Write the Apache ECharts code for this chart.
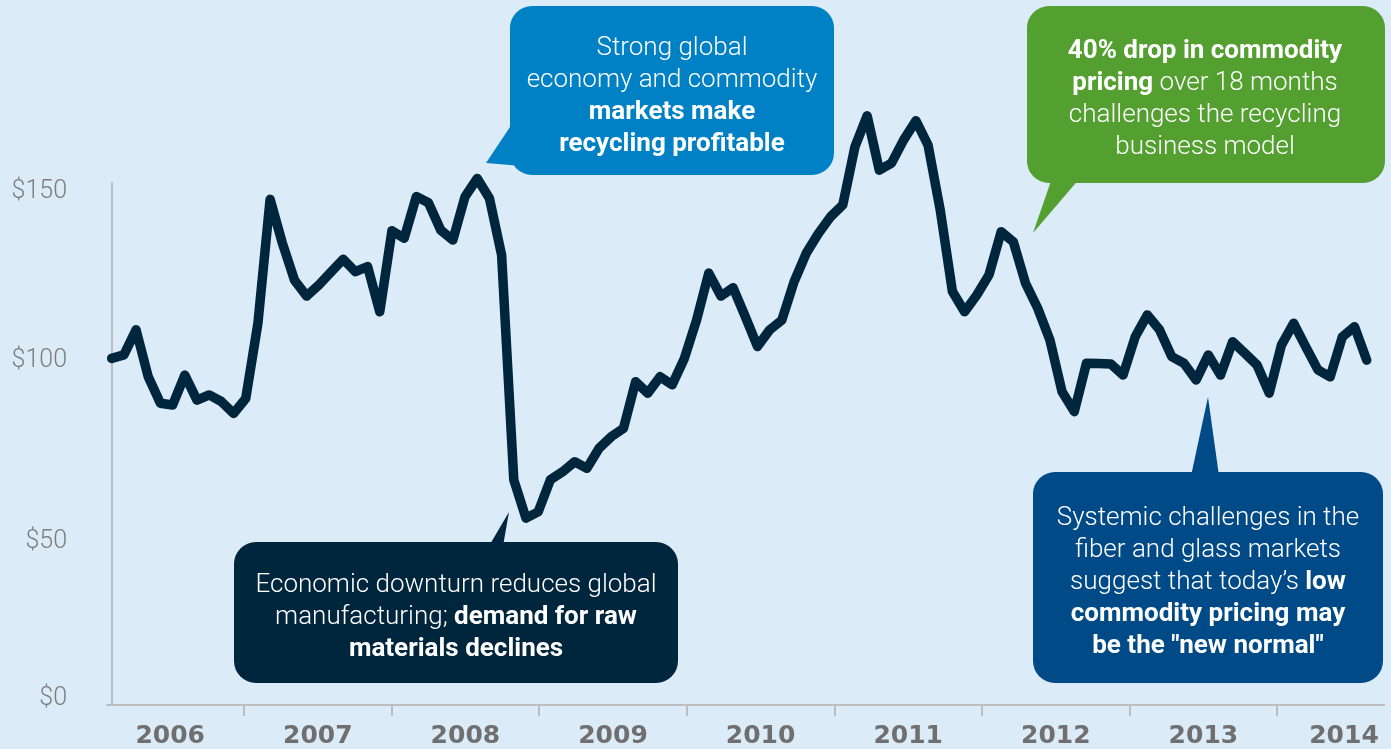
<!DOCTYPE html>
<html><head><meta charset="utf-8">
<script src="https://cdn.jsdelivr.net/npm/echarts@6/dist/echarts.min.js"></script>
<style>html,body{margin:0;padding:0;background:#dbebf7;}#c{width:1391px;height:749px;}</style>
</head><body><div id="c"></div>
<script>
// Monthly observations, Feb 2006 – Sep 2014
const months = [
 '2006-02','2006-03','2006-04','2006-05','2006-06','2006-07','2006-08','2006-09','2006-10','2006-11','2006-12',
 '2007-01','2007-02','2007-03','2007-04','2007-05','2007-06','2007-07','2007-08','2007-09','2007-10','2007-11','2007-12',
 '2008-01','2008-02','2008-03','2008-04','2008-05','2008-06','2008-07','2008-08','2008-09','2008-10','2008-11','2008-12',
 '2009-01','2009-02','2009-03','2009-04','2009-05','2009-06','2009-07','2009-08','2009-09','2009-10','2009-11','2009-12',
 '2010-01','2010-02','2010-03','2010-04','2010-05','2010-06','2010-07','2010-08','2010-09','2010-10','2010-11','2010-12',
 '2011-01','2011-02','2011-03','2011-04','2011-05','2011-06','2011-07','2011-08','2011-09','2011-10','2011-11','2011-12',
 '2012-01','2012-02','2012-03','2012-04','2012-05','2012-06','2012-07','2012-08','2012-09','2012-10','2012-11','2012-12',
 '2013-01','2013-02','2013-03','2013-04','2013-05','2013-06','2013-07','2013-08','2013-09','2013-10','2013-11','2013-12',
 '2014-01','2014-02','2014-03','2014-04','2014-05','2014-06','2014-07','2014-08','2014-09'
];
const prices = [
 99.6,100.6,107.8,94.3,86.7,86.2,94.8,87.6,89.1,87.2,83.8,
 88.1,109.7,145.3,132.8,122.1,117.5,120.7,124.4,128.1,124.5,126.0,113.0,
 136.3,134.1,146.1,144.3,136.5,133.6,146.1,151.3,145.6,129.3,64.7,53.7,
 55.5,64.7,67.0,69.9,68.0,73.8,77.1,79.5,92.9,89.6,94.3,92.0,
 99.6,110.6,124.1,117.5,119.9,111.6,103.0,107.8,110.6,121.6,129.8,135.5,
 140.3,143.7,160.4,169.3,153.7,155.7,162.4,167.9,160.9,142.2,118.8,113.0,
 117.8,123.6,136.0,133.1,121.2,114.0,104.9,90.0,84.3,98.2,98.1,98.0,
 94.8,105.8,112.1,107.8,100.1,98.2,93.4,100.6,94.8,104.4,101.1,97.7,
 89.6,103.4,109.7,102.9,96.3,94.3,105.8,108.7,99.1
];
const years = ['2006','2007','2008','2009','2010','2011','2012','2013','2014'];
const yTicks = [0, 50, 100, 150];

const seriesData = prices.map((v, i) => [i, v]);
// calendar months for the year axis (starts at January 2006)
const calendarMonths = ['2006-01'].concat(months);

const LIGHT = 'Roboto';
const FS = 26;
const richStyles = {
  l: {fontFamily: LIGHT, fontWeight: 300, fontSize: FS, lineHeight: 32, fill: '#ffffff', color: '#ffffff'},
  b: {fontFamily: LIGHT, fontWeight: 700, fontSize: FS, lineHeight: 32, fill: '#ffffff', color: '#ffffff'}
};
function callout(box, pointer, color, cx, cy, text) {
  return {
    type: 'group', z: 100, children: [
      {type: 'polygon', shape: {points: pointer}, style: {fill: color}, z: 100},
      {type: 'rect', shape: {x: box[0], y: box[1], width: box[2], height: box[3], r: 22}, style: {fill: color}, z: 100},
      {type: 'text', z: 101, style: {
        x: cx, y: cy, text: text, rich: richStyles, fill: '#fff',
        align: 'center', verticalAlign: 'middle', textAlign: 'center', textVerticalAlign: 'middle',
        fontFamily: LIGHT, fontSize: FS, lineHeight: 32
      }}
    ]
  };
}

const yearLabelStyle = {color: '#6f6f6f', fontFamily: 'DejaVu Sans', fontWeight: 'bold', fontSize: 25};
const lastYear = years[years.length - 1];

const chart = echarts.init(document.getElementById('c'), null, {renderer: 'canvas'});
chart.setOption({
  backgroundColor: '#dbebf7',
  animation: false,
  grid: [
    {left: 107, right: 7, top: 183, bottom: 44},
    {left: 96.4, width: 1279.2, top: 183, bottom: 44},
    {left: 107, right: 7, top: 192, bottom: 50}
  ],
  xAxis: [
    {type: 'value', gridIndex: 0, min: -0.386, max: 104.42,
     axisLine: {show: true, lineStyle: {color: '#bdbdbd', width: 2}},
     axisTick: {show: false}, axisLabel: {show: false}, splitLine: {show: false}},
    {type: 'category', gridIndex: 1, data: calendarMonths, boundaryGap: false,
     axisLine: {show: false},
     axisTick: {show: true, length: 11, interval: (i) => i > 0 && i % 12 === 0,
       lineStyle: {color: '#bdbdbd', width: 2}},
     axisLabel: Object.assign({interval: (i) => i % 12 === 6, margin: 19,
       formatter: (v) => {
         const y = v.slice(0, 4);
         return y === lastYear ? '{e|' + y + '}' : y;
       },
       rich: {e: Object.assign({padding: [0, 14, 0, 0]}, yearLabelStyle)}}, yearLabelStyle)},
    {type: 'value', gridIndex: 2, show: false}
  ],
  yAxis: [
    {type: 'value', gridIndex: 0, min: 0, max: 150,
     axisLine: {show: true, lineStyle: {color: '#bdbdbd', width: 2}},
     axisTick: {show: false}, axisLabel: {show: false}, splitLine: {show: false}},
    {type: 'value', gridIndex: 1, show: false, min: 0, max: 150},
    {type: 'value', gridIndex: 2, min: yTicks[0], max: yTicks[yTicks.length - 1], interval: 50,
     axisLine: {show: false}, axisTick: {show: false}, splitLine: {show: false},
     axisLabel: {margin: 40, color: '#7d7d7d', fontFamily: LIGHT, fontWeight: 300, fontSize: 25,
       formatter: (v) => v === 50 ? '{d|$' + v + '}' : '$' + v,
       rich: {d: {padding: [24, 0, 0, 0], color: '#7d7d7d', fontFamily: LIGHT, fontWeight: 300, fontSize: 25}}}}
  ],
  series: [{
    type: 'line', xAxisIndex: 0, yAxisIndex: 0, data: seriesData,
    showSymbol: false, clip: false, z: 10,
    lineStyle: {color: '#00263e', width: 9.5, cap: 'round', join: 'round'}
  }],
  graphic: [
    callout([510, 6, 324, 169], [[512, 124], [486, 163], [522, 166]], '#0081c6', 672, 96,
      '{l|Strong global}\n{l|economy and commodity}\n{b|markets make}\n{b|recycling profitable}'),
    callout([1027, 6, 358, 177], [[1052, 178], [1033, 233], [1080, 178]], '#53a031', 1205, 99.5,
      '{b|40% drop in commodity}\n{b|pricing}{l| over 18 months}\n{l|challenges the recycling}\n{l|business model}'),
    callout([234, 542, 444, 141], [[489, 546], [509, 512], [503, 546]], '#00263e', 456, 617.5,
      '{l|Economic downturn reduces global}\n{l|manufacturing; }{b|demand for raw}\n{b|materials declines}'),
    callout([1033, 472, 350, 211], [[1191, 476], [1208, 397], [1219, 476]], '#004a87', 1208, 582.5,
      '{l|Systemic challenges in the}\n{l|fiber and glass markets}\n{l|suggest that today\u2019s }{b|low}\n{b|commodity pricing may}\n{b|be the "new normal"}')
  ]
});
</script></body></html>
